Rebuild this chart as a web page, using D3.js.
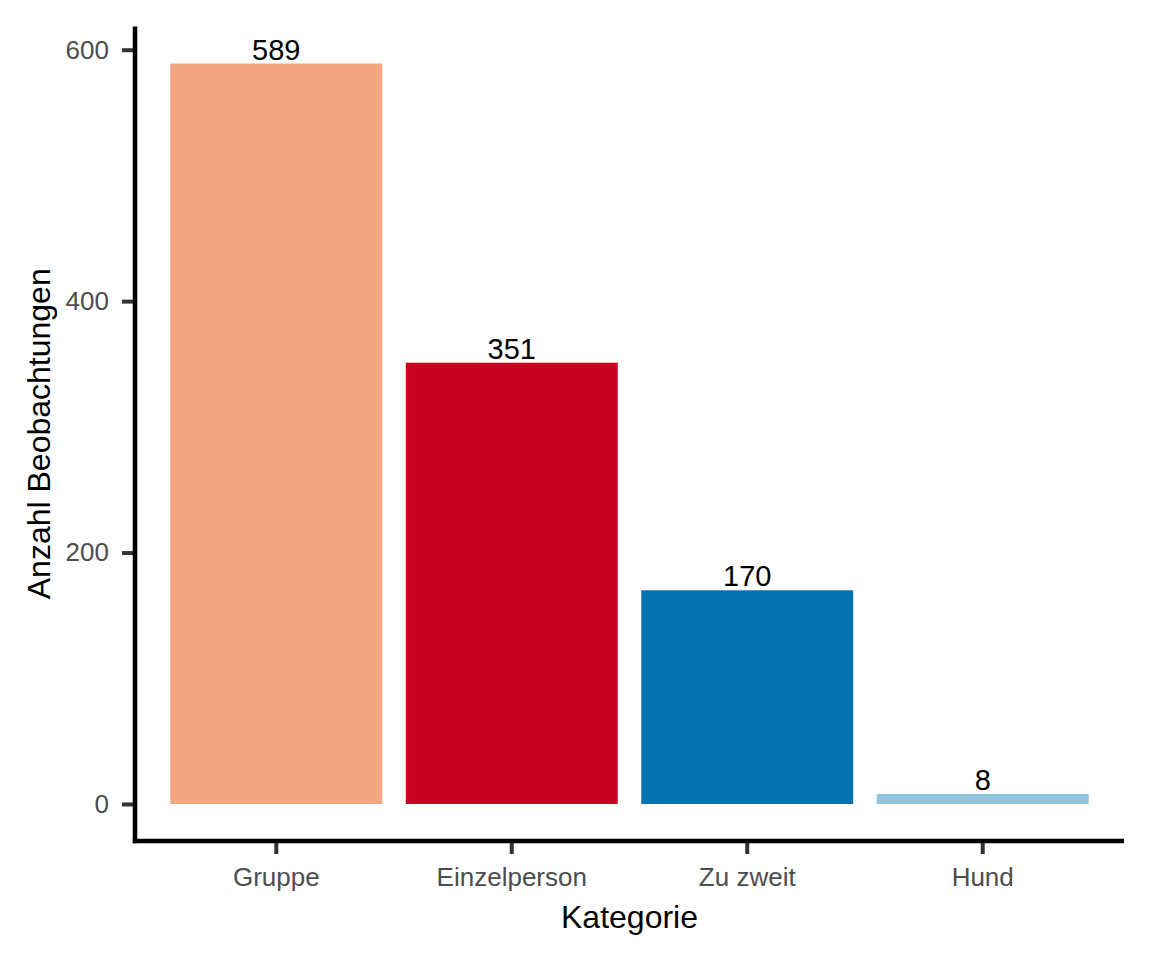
<!DOCTYPE html>
<meta charset="utf-8">
<style>
  body { margin: 0; background: #fff; }
  text { font-family: "Liberation Sans", Arial, sans-serif; }
</style>
<svg width="1152" height="960"></svg>
<script src="https://cdn.jsdelivr.net/npm/d3@7"></script>
<script>

// data
var categories = ["Gruppe", "Einzelperson", "Zu zweit", "Hund"];
var counts = [589, 351, 170, 8];
var barColors = ["#F4A582", "#CA0020", "#0571B0", "#92C5DE"];
var yTicks = [0, 200, 400, 600];

var svg = d3.select("svg"),
    width = +svg.attr("width"),
    height = +svg.attr("height");

svg.append("rect").attr("width", width).attr("height", height).attr("fill", "#fff");

// panel edges (ggplot style with 5% expansion on y)
var panel = {left: 135, right: 1124, top: 26.5, bottom: 841};

var yMax = d3.max(counts);
var x = d3.scaleBand()
    .domain(categories)
    .range([panel.left, panel.right])
    .paddingInner(0.1)
    .paddingOuter(0.15);

var y = d3.scaleLinear()
    .domain([-0.05 * yMax, 1.05 * yMax])
    .range([panel.bottom, panel.top]);

var data = categories.map(function(c, i) { return {cat: c, n: counts[i], col: barColors[i]}; });

// bars
svg.append("g").selectAll("rect")
  .data(data)
  .enter().append("rect")
    .attr("x", function(d) { return x(d.cat); })
    .attr("width", x.bandwidth())
    .attr("y", function(d) { return y(d.n); })
    .attr("height", function(d) { return y(0) - y(d.n); })
    .attr("fill", function(d) { return d.col; });

// value labels
svg.append("g").selectAll("text")
  .data(data)
  .enter().append("text")
    .attr("x", function(d) { return x(d.cat) + x.bandwidth() / 2; })
    .attr("y", function(d) { return y(d.n) - 4; })
    .attr("text-anchor", "middle")
    .attr("font-size", "29px")
    .attr("fill", "#000")
    .text(function(d) { return d.n; });

// y axis
var yAxis = svg.append("g")
    .attr("transform", "translate(" + panel.left + ",0)")
    .call(d3.axisLeft(y).tickValues(yTicks).tickSize(13).tickPadding(6));
yAxis.select(".domain").remove();
yAxis.selectAll(".tick line").attr("stroke", "#333").attr("stroke-width", 4);
yAxis.selectAll(".tick text").attr("fill", "#4d4d4d").attr("font-size", "26px")
    .attr("font-family", "Liberation Sans, Arial, sans-serif").attr("x", -26);

// x axis
var xAxis = svg.append("g")
    .attr("transform", "translate(0," + panel.bottom + ")")
    .call(d3.axisBottom(x).tickSize(13).tickPadding(8));
xAxis.select(".domain").remove();
xAxis.selectAll(".tick line").attr("stroke", "#333").attr("stroke-width", 4);
xAxis.selectAll(".tick text").attr("fill", "#4d4d4d").attr("font-size", "26px")
    .attr("font-family", "Liberation Sans, Arial, sans-serif")
    .attr("dy", null).attr("y", 45);

// axis lines
svg.append("line")
    .attr("x1", panel.left).attr("x2", panel.left)
    .attr("y1", panel.top).attr("y2", panel.bottom + 2.2)
    .attr("stroke", "#000").attr("stroke-width", 4.5);
svg.append("line")
    .attr("x1", panel.left - 2.2).attr("x2", panel.right)
    .attr("y1", panel.bottom).attr("y2", panel.bottom)
    .attr("stroke", "#000").attr("stroke-width", 4.5);

// axis titles
svg.append("text")
    .attr("x", (panel.left + panel.right) / 2)
    .attr("y", 928)
    .attr("text-anchor", "middle")
    .attr("font-size", "32px")
    .attr("fill", "#000")
    .text("Kategorie");

svg.append("text")
    .attr("transform", "translate(50," + (panel.top + panel.bottom) / 2 + ") rotate(-90)")
    .attr("text-anchor", "middle")
    .attr("font-size", "32px")
    .attr("fill", "#000")
    .text("Anzahl Beobachtungen");

</script>
